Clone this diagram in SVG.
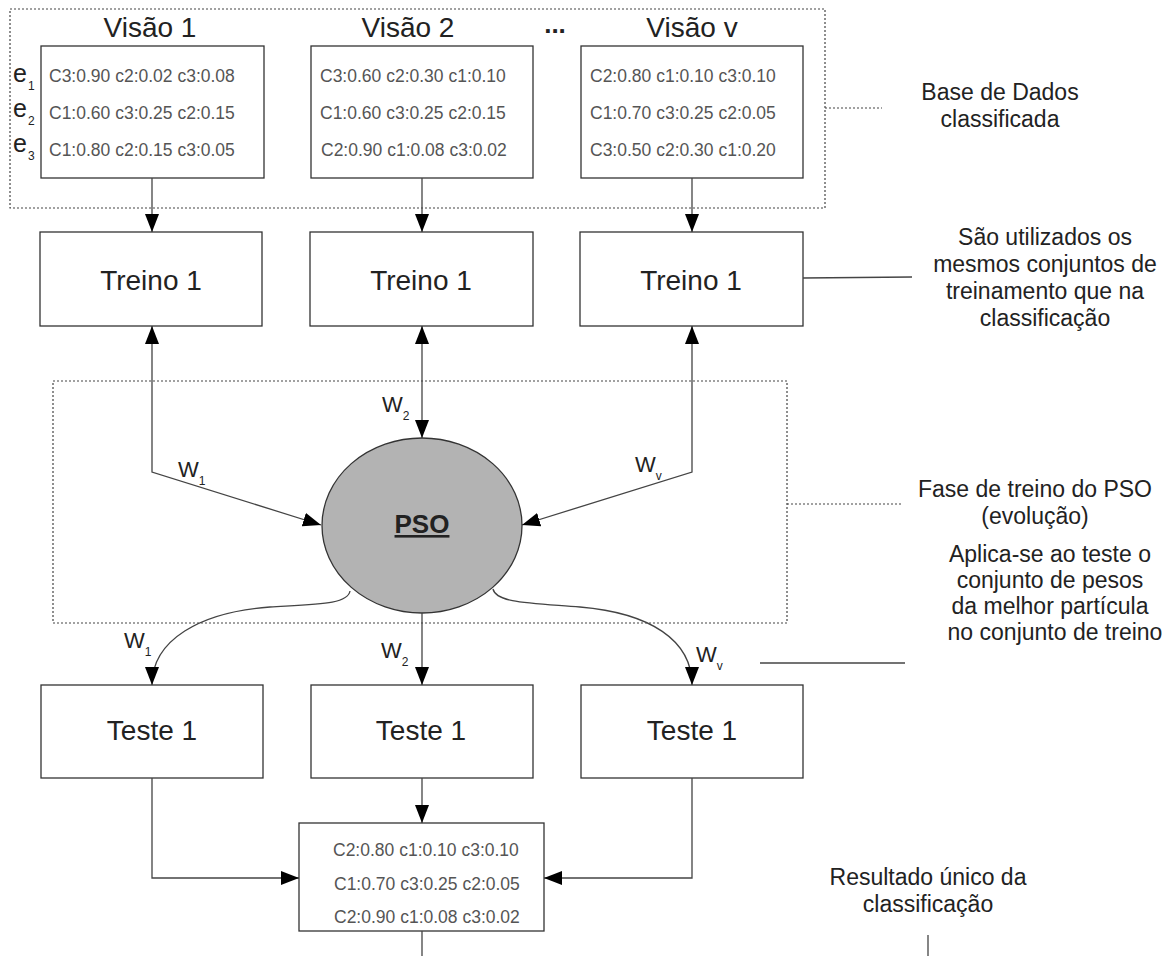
<svg xmlns="http://www.w3.org/2000/svg" width="1175" height="956" viewBox="0 0 1175 956">
<style>
text{font-family:"Liberation Sans",Arial,sans-serif;fill:#222}
.box{fill:#fff;stroke:#333;stroke-width:1.3}
.big{font-size:28px;text-anchor:middle}
.data{font-size:17.5px;fill:#555}
.note{font-size:23px;text-anchor:middle}
.dot{fill:none;stroke:#444;stroke-width:1.2;stroke-dasharray:2,2}
.con{fill:none;stroke:#444;stroke-width:1.3}
.w{font-size:22px}
.sub{font-size:12px}
</style>
<defs>
<marker id="ah" markerUnits="userSpaceOnUse" markerWidth="18" markerHeight="14" refX="18" refY="7" orient="auto-start-reverse">
<path d="M0,0 L18,7 L0,14 z" fill="#000"/>
</marker>
</defs>

<!-- dotted groupings -->
<g id="groups">
<rect class="dot" x="10" y="9" width="815" height="199"/>
<line class="dot" x1="825" y1="108" x2="882" y2="108"/>
<rect class="dot" x="53" y="381" width="734" height="242"/>
<line class="dot" x1="787" y1="504" x2="902" y2="504"/>
</g>

<!-- titles -->
<g id="titles">
<text class="big" x="150" y="37">Visão 1</text>
<text class="big" x="408" y="37">Visão 2</text>
<text x="555" y="33" style="font-size:26px;font-weight:bold;text-anchor:middle">...</text>
<text class="big" x="692" y="37">Visão v</text>
</g>

<g id="e-labels" style="font-size:25px">
<text x="13" y="82">e<tspan class="sub" dy="8" dx="1">1</tspan></text>
<text x="13" y="117">e<tspan class="sub" dy="8" dx="1">2</tspan></text>
<text x="13" y="152">e<tspan class="sub" dy="8" dx="1">3</tspan></text>
</g>

<g id="visao1">
<rect class="box" x="41" y="46" width="223" height="132"/>
<text class="data" x="49" y="82">C3:0.90 c2:0.02 c3:0.08</text>
<text class="data" x="49" y="119">C1:0.60 c3:0.25 c2:0.15</text>
<text class="data" x="49" y="156">C1:0.80 c2:0.15 c3:0.05</text>
</g>
<g id="visao2">
<rect class="box" x="311" y="46" width="222" height="132"/>
<text class="data" x="320" y="82">C3:0.60 c2:0.30 c1:0.10</text>
<text class="data" x="320" y="119">C1:0.60 c3:0.25 c2:0.15</text>
<text class="data" x="321" y="156">C2:0.90 c1:0.08 c3:0.02</text>
</g>
<g id="visaov">
<rect class="box" x="581" y="46" width="222" height="132"/>
<text class="data" x="590" y="82">C2:0.80 c1:0.10 c3:0.10</text>
<text class="data" x="590" y="119">C1:0.70 c3:0.25 c2:0.05</text>
<text class="data" x="590" y="156">C3:0.50 c2:0.30 c1:0.20</text>
</g>

<g id="treino1"><rect class="box" x="40" y="232" width="222" height="94"/><text class="big" x="151" y="290">Treino 1</text></g>
<g id="treino2"><rect class="box" x="310" y="232" width="223" height="94"/><text class="big" x="421" y="290">Treino 1</text></g>
<g id="treino3"><rect class="box" x="580" y="232" width="223" height="94"/><text class="big" x="691" y="290">Treino 1</text></g>

<g id="pso">
<ellipse cx="422" cy="525.5" rx="100" ry="87.5" fill="#b3b3b3" stroke="#333" stroke-width="1.3"/>
<text x="422" y="533" style="font-size:26px;font-weight:bold;text-anchor:middle;text-decoration:underline">PSO</text>
</g>

<g id="teste1"><rect class="box" x="41" y="685" width="222" height="93"/><text class="big" x="152" y="740">Teste 1</text></g>
<g id="teste2"><rect class="box" x="311" y="685" width="222" height="93"/><text class="big" x="421" y="740">Teste 1</text></g>
<g id="teste3"><rect class="box" x="581" y="685" width="222" height="93"/><text class="big" x="692" y="740">Teste 1</text></g>

<g id="resultado">
<rect class="box" x="299" y="823" width="245" height="108"/>
<text class="data" x="333" y="856">C2:0.80 c1:0.10 c3:0.10</text>
<text class="data" x="334" y="890">C1:0.70 c3:0.25 c2:0.05</text>
<text class="data" x="334" y="923">C2:0.90 c1:0.08 c3:0.02</text>
</g>

<g id="connectors">
<line class="con" x1="152" y1="178" x2="152" y2="232" marker-end="url(#ah)"/>
<line class="con" x1="422" y1="178" x2="422" y2="232" marker-end="url(#ah)"/>
<line class="con" x1="692" y1="178" x2="692" y2="232" marker-end="url(#ah)"/>
<path class="con" d="M152,326 L152,472 L321,525" marker-start="url(#ah)" marker-end="url(#ah)"/>
<path class="con" d="M422,326 L422,438" marker-start="url(#ah)" marker-end="url(#ah)"/>
<path class="con" d="M692,326 L692,472 L522,525" marker-start="url(#ah)" marker-end="url(#ah)"/>
<path class="con" d="M350,591 C348,604 320,604 270,607 C200,612 152,640 152,685" marker-end="url(#ah)"/>
<line class="con" x1="422" y1="613" x2="422" y2="685" marker-end="url(#ah)"/>
<path class="con" d="M493,589 C496,603 530,603 580,607 C650,613 692,640 692,685" marker-end="url(#ah)"/>
<line class="con" x1="422" y1="778" x2="422" y2="823" marker-end="url(#ah)"/>
<path class="con" d="M152,778 L152,878 L299,878" marker-end="url(#ah)"/>
<path class="con" d="M692,778 L692,878 L544,878" marker-end="url(#ah)"/>
<line class="con" x1="422" y1="931" x2="422" y2="956"/>
<line class="con" x1="803" y1="278" x2="912" y2="277"/>
<line class="con" x1="760" y1="663" x2="905" y2="663"/>
<line class="con" x1="928" y1="935" x2="928" y2="956"/>
</g>

<g id="weights">
<text class="w" x="178" y="477">W<tspan class="sub" dy="8">1</tspan></text>
<text class="w" x="382" y="412">W<tspan class="sub" dy="8">2</tspan></text>
<text class="w" x="635" y="472">W<tspan class="sub" dy="8">v</tspan></text>
<text class="w" x="124" y="648">W<tspan class="sub" dy="8">1</tspan></text>
<text class="w" x="381" y="658">W<tspan class="sub" dy="8">2</tspan></text>
<text class="w" x="696" y="662">W<tspan class="sub" dy="8">v</tspan></text>
</g>

<g id="notes">
<text class="note" x="1000" y="100">Base de Dados</text>
<text class="note" x="1000" y="127">classificada</text>
<text class="note" x="1045" y="245">São utilizados os</text>
<text class="note" x="1045" y="272">mesmos conjuntos de</text>
<text class="note" x="1045" y="299">treinamento que na</text>
<text class="note" x="1045" y="326">classificação</text>
<text class="note" x="1035" y="497">Fase de treino do PSO</text>
<text class="note" x="1035" y="524">(evolução)</text>
<text class="note" x="1050" y="562">Aplica-se ao teste o</text>
<text class="note" x="1050" y="588">conjunto de pesos</text>
<text class="note" x="1050" y="614">da melhor partícula</text>
<text class="note" x="1055" y="640">no conjunto de treino</text>
<text class="note" x="928" y="885">Resultado único da</text>
<text class="note" x="928" y="912">classificação</text>
</g>
</svg>
